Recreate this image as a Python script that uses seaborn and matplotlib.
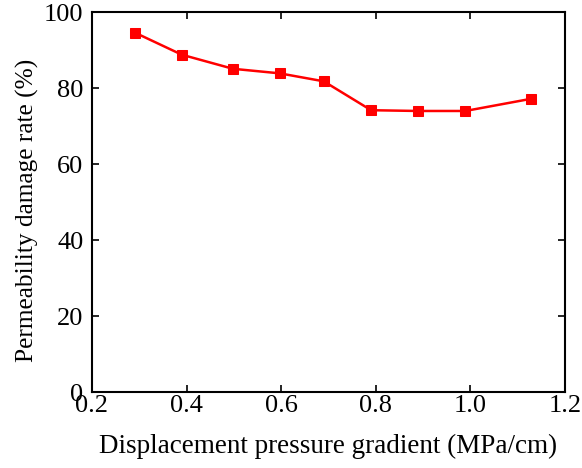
import matplotlib
matplotlib.use("Agg")
import matplotlib.pyplot as plt
import seaborn as sns
import pandas as pd

gradient = [0.291, 0.390, 0.498, 0.597, 0.690, 0.790, 0.889, 0.989, 1.128]
damage_rate = [94.6, 88.8, 85.1, 83.9, 81.8, 74.2, 74.0, 74.0, 77.2]
x_ticks = [0.2, 0.4, 0.6, 0.8, 1.0, 1.2]
y_ticks = [0, 20, 40, 60, 80, 100]

df = pd.DataFrame({"x": gradient, "y": damage_rate})

sns.set_style("ticks")
plt.rcParams["font.family"] = ["Liberation Serif", "DejaVu Serif"]
plt.rcParams["text.color"] = "black"
plt.rcParams["axes.labelcolor"] = "black"

fig = plt.figure(figsize=(5.82, 4.68), dpi=100)
ax = fig.add_axes([0.158, 0.162, 0.813, 0.812])

sns.lineplot(data=df, x="x", y="y", ax=ax, color="#ff0000", linewidth=1.8,
             marker="s", markersize=7.5, markeredgecolor="#ff0000")

ax.set_xlim(0.2, 1.2)
ax.set_ylim(0, 100)
ax.set_xticks(x_ticks)
ax.set_xticklabels([f"{v:.1f}" for v in x_ticks])
ax.set_yticks(y_ticks)
ax.set_yticklabels([str(v) for v in y_ticks])
ax.tick_params(direction="in", length=5, width=1.2, labelsize=19, colors="black",
               top=True, right=True, labeltop=False, labelright=False)
ax.tick_params(axis="x", pad=2)
ax.tick_params(axis="y", pad=6)
for s in ax.spines.values():
    s.set_linewidth(1.5)
    s.set_color("black")
ax.set_xlabel("Displacement pressure gradient (MPa/cm)", fontsize=19.5, labelpad=12,
              color="black")
ax.set_ylabel("Permeability damage rate (%)", fontsize=18.3, color="black")
ax.yaxis.set_label_coords(-0.112, 0.479)

fig.savefig("out.png", dpi=100)
